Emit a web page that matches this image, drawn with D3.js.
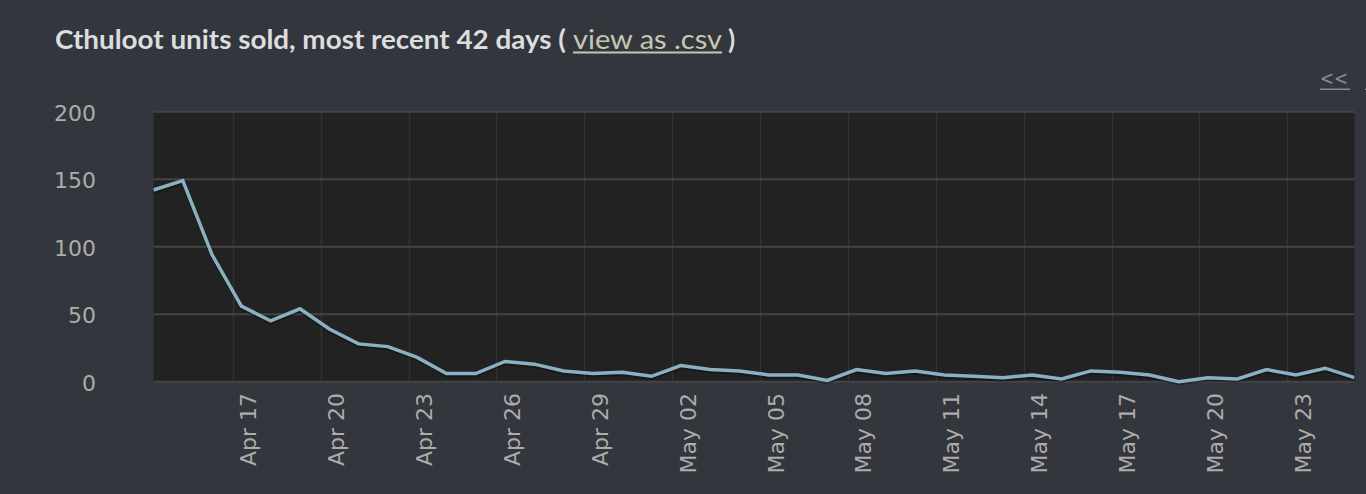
<!DOCTYPE html>
<html>
<head>
<meta charset="utf-8">
<script src="https://cdn.jsdelivr.net/npm/d3@7/dist/d3.min.js"></script>
<style>
  html, body { margin: 0; padding: 0; background: #33363d; overflow: hidden; }
  svg { display: block; }
</style>
</head>
<body>
<svg id="chart" width="1366" height="494"></svg>
<script>
// ---- data ----
const titleMain = "Cthuloot units sold, most recent 42 days (";
const titleLink = "view as .csv";
const titleClose = ")";
const navPrev = "<<";
const navNext = ">>";
const startDay = "2017-04-14";           // first day of the 42-day series
const pointHour = 7;                      // samples are stamped 07:00 (timezone shift)
const unitsSold = [142, 149, 94, 56, 45, 54, 39, 28, 26, 18, 6, 6, 15, 13, 8, 6, 7, 4, 12, 9, 8,
                   5, 5, 1, 9, 6, 8, 5, 4, 3, 5, 2, 8, 7, 5, 0, 3, 2, 9, 5, 10, 3];
const xTickLabels = ["Apr 17", "Apr 20", "Apr 23", "Apr 26", "Apr 29", "May 02", "May 05",
                     "May 08", "May 11", "May 14", "May 17", "May 20", "May 23"];
const yTicks = [0, 50, 100, 150, 200];

// ---- build ----
const parseDay = d3.utcParse("%Y-%m-%d");
const day0 = parseDay(startDay);
const points = unitsSold.map((v, i) => ({
  t: new Date(day0.getTime() + (i * 24 + pointHour) * 3600e3),
  v
}));
const tickParse = d3.utcParse("%b %d %Y");
const tickDates = xTickLabels.map(s => tickParse(s + " 2017"));

const svg = d3.select("#chart");
const plot = { left: 153.5, right: 1354.5, top: 111.7, bottom: 381.7 };

const x = d3.scaleUtc()
  .domain(d3.extent(points, d => d.t))
  .range([plot.left, plot.right]);
const y = d3.scaleLinear()
  .domain([0, 200])
  .range([plot.bottom, plot.top]);

// plot background
svg.append("rect")
  .attr("x", plot.left).attr("y", plot.top)
  .attr("width", plot.right - plot.left).attr("height", plot.bottom - plot.top)
  .attr("fill", "#222222");

// vertical grid
svg.append("g")
  .selectAll("line").data(tickDates).join("line")
  .attr("x1", d => Math.round(x(d)) + 0.5).attr("x2", d => Math.round(x(d)) + 0.5)
  .attr("y1", plot.top).attr("y2", plot.bottom)
  .attr("stroke", "#333333").attr("stroke-width", 1.5);

// horizontal grid
svg.append("g")
  .selectAll("line").data(yTicks).join("line")
  .attr("x1", plot.left).attr("x2", plot.right)
  .attr("y1", d => y(d)).attr("y2", d => y(d))
  .attr("stroke", "#444444").attr("stroke-width", 2);

// y labels
svg.append("g")
  .selectAll("text").data(yTicks).join("text")
  .attr("x", 96).attr("y", d => y(d) + 9)
  .attr("text-anchor", "end")
  .attr("font-family", "DejaVu Sans")
  .attr("font-size", 22)
  .attr("fill", "#acacac")
  .text(d => d);

// x labels (rotated)
svg.append("g")
  .selectAll("text").data(tickDates).join("text")
  .attr("transform", d => `translate(${x(d) + 23.5},393) rotate(-90)`)
  .attr("text-anchor", "end")
  .attr("font-family", "DejaVu Sans")
  .attr("font-size", 22)
  .attr("fill", "#acacac")
  .text((d, i) => xTickLabels[i]);

// clip
svg.append("clipPath").attr("id", "clip")
  .append("rect")
  .attr("x", plot.left).attr("y", plot.top - 5)
  .attr("width", plot.right - plot.left).attr("height", plot.bottom - plot.top + 10);

const line = d3.line().x(d => x(d.t)).y(d => y(d.v));

// shadow
svg.append("path")
  .datum(points)
  .attr("clip-path", "url(#clip)")
  .attr("transform", "translate(0,2)")
  .attr("fill", "none")
  .attr("stroke", "rgba(0,0,0,0.3)")
  .attr("stroke-width", 3.5)
  .attr("d", line);

svg.append("path")
  .datum(points)
  .attr("clip-path", "url(#clip)")
  .attr("fill", "none")
  .attr("stroke", "#8ab1c2")
  .attr("stroke-width", 3.5)
  .attr("stroke-linejoin", "miter")
  .attr("d", line);

// title
const tMain = svg.append("text")
  .attr("x", 55).attr("y", 48.5)
  .attr("font-family", "Lato, 'Open Sans', sans-serif")
  .attr("font-weight", "bold")
  .attr("font-size", 26)
  .attr("fill", "#dcdddf")
  .text(titleMain);
tMain.attr("textLength", 511).attr("lengthAdjust", "spacingAndGlyphs");

const tLink = svg.append("text")
  .attr("x", 573).attr("y", 48.5)
  .attr("font-family", "Lato, 'Open Sans', sans-serif")
  .attr("font-size", 26)
  .attr("fill", "#c5c8b0")
  .text(titleLink);
tLink.attr("textLength", 149).attr("lengthAdjust", "spacingAndGlyphs");
svg.append("rect")
  .attr("x", 573).attr("y", 51.5).attr("width", 149).attr("height", 2)
  .attr("fill", "#c5c8b0");

svg.append("text")
  .attr("x", 728).attr("y", 48.5)
  .attr("font-family", "Lato, 'Open Sans', sans-serif")
  .attr("font-weight", "bold")
  .attr("font-size", 26)
  .attr("fill", "#dcdddf")
  .text(titleClose);

// nav links
svg.append("text")
  .attr("x", 1320).attr("y", 85)
  .attr("font-family", "DejaVu Sans")
  .attr("font-size", 20)
  .attr("fill", "#8a8c90")
  .attr("textLength", 28).attr("lengthAdjust", "spacingAndGlyphs")
  .text(navPrev);
svg.append("rect")
  .attr("x", 1320).attr("y", 88.5).attr("width", 30).attr("height", 1.5)
  .attr("fill", "#8a8c90");
svg.append("text")
  .attr("x", 1365).attr("y", 85)
  .attr("font-family", "DejaVu Sans")
  .attr("font-size", 20)
  .attr("fill", "#8a8c90")
  .text(navNext);
svg.append("rect")
  .attr("x", 1365).attr("y", 88.5).attr("width", 30).attr("height", 1.5)
  .attr("fill", "#8a8c90");
</script>
</body>
</html>
